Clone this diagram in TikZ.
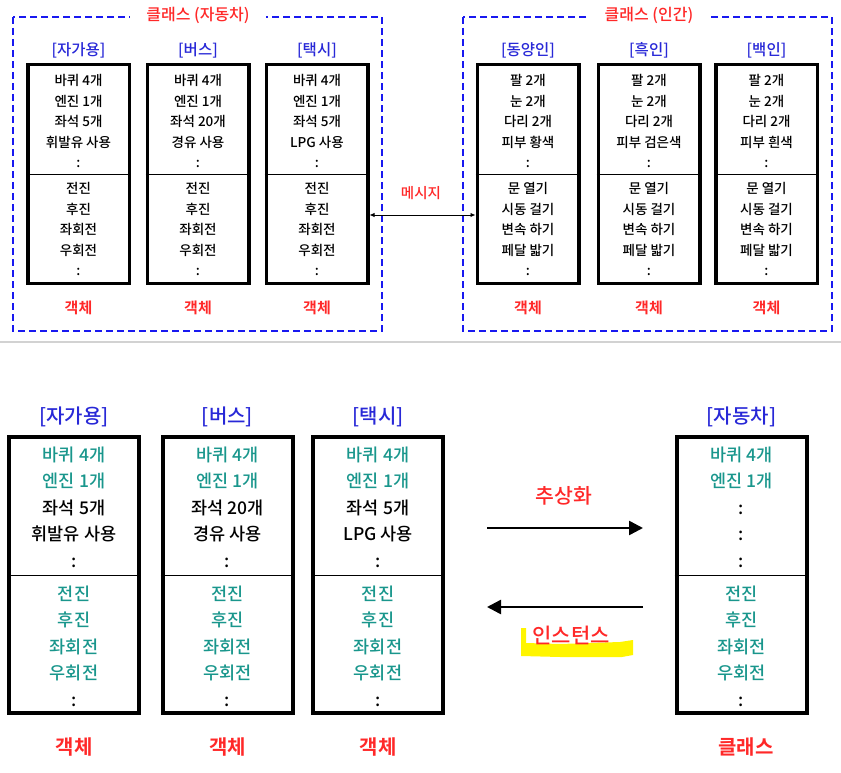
\documentclass[tikz,border=0pt]{standalone}
\usepackage{fontspec}
\setmainfont{Noto Sans CJK KR}[UprightFont=* Medium, BoldFont=* Bold]
\usetikzlibrary{arrows.meta}
\definecolor{namered}{RGB}{255,40,40}
\definecolor{tagblue}{RGB}{40,40,215}
\definecolor{frameblue}{RGB}{25,25,240}
\definecolor{tealtext}{RGB}{25,150,140}
\definecolor{marker}{RGB}{255,245,0}

\begin{document}
\begin{tikzpicture}[x=1pt, y=-1pt,
        objbox/.style={draw, line width=3.5pt, minimum width=101.5pt, minimum height=218.5pt, inner sep=0pt},
        bigbox/.style={draw, line width=4pt, minimum width=130pt, minimum height=276pt, inner sep=0pt},
        attrtext/.style={align=center, inner sep=0pt, font=\fontsize{13.5}{20.5}\selectfont},
        bigtext/.style={align=center, inner sep=0pt, font=\fontsize{17.5}{26.5}\selectfont},
        boxtag/.style={text=tagblue, font=\fontsize{15.5}{18}\selectfont},
        bigtag/.style={text=tagblue, font=\fontsize{20}{24}\selectfont},
        objname/.style={text=namered, font=\bfseries\fontsize{15}{18}\selectfont},
        bigname/.style={text=namered, font=\bfseries\fontsize{20}{24}\selectfont},
        frame/.style={draw=frameblue, line width=1.8pt, dash pattern=on 7pt off 4pt},
        frametitle/.style={fill=white, text=namered, inner xsep=16pt, font=\fontsize{16}{19}\selectfont}]
        \useasboundingbox (0,0) rectangle (841,773);

        % Top diagram: class frames
        \draw[frame] (13,17) rectangle (382,331);
        \draw[frame] (463,17) rectangle (832,331);
        \node[frametitle] (cartitle) at (198,15) {클래스 (자동차)};
        \node[frametitle] (humtitle) at (649,15) {클래스 (인간)};

        % Car objects
        \node[boxtag] (car1t) at (78.5,50) {[자가용]};
        \node[objbox] (car1) at (78.5,174) {};
        \draw (car1.west) -- (car1.east);
        \node[attrtext] (car1a) at (78.5,121) {바퀴 4개\\엔진 1개\\좌석 5개\\휘발유 사용\\:};
        \node[attrtext] (car1m) at (78.5,229) {전진\\후진\\좌회전\\우회전\\:};
        \node[objname] (car1o) at (78.5,308) {객체};

        \node[boxtag] (car2t) at (198,50) {[버스]};
        \node[objbox] (car2) at (198,174) {};
        \draw (car2.west) -- (car2.east);
        \node[attrtext] (car2a) at (198,121) {바퀴 4개\\엔진 1개\\좌석 20개\\경유 사용\\:};
        \node[attrtext] (car2m) at (198,229) {전진\\후진\\좌회전\\우회전\\:};
        \node[objname] (car2o) at (198,308) {객체};

        \node[boxtag] (car3t) at (317,50) {[택시]};
        \node[objbox] (car3) at (317,174) {};
        \draw (car3.west) -- (car3.east);
        \node[attrtext] (car3a) at (317,121) {바퀴 4개\\엔진 1개\\좌석 5개\\LPG 사용\\:};
        \node[attrtext] (car3m) at (317,229) {전진\\후진\\좌회전\\우회전\\:};
        \node[objname] (car3o) at (317,308) {객체};

        % Human objects
        \node[boxtag] (hum1t) at (528,50) {[동양인]};
        \node[objbox] (hum1) at (528,174) {};
        \draw (hum1.west) -- (hum1.east);
        \node[attrtext] (hum1a) at (528,121) {팔 2개\\눈 2개\\다리 2개\\피부 황색\\:};
        \node[attrtext] (hum1m) at (528,229) {문 열기\\시동 걸기\\변속 하기\\페달 밟기\\:};
        \node[objname] (hum1o) at (528,308) {객체};

        \node[boxtag] (hum2t) at (649,50) {[흑인]};
        \node[objbox] (hum2) at (649,174) {};
        \draw (hum2.west) -- (hum2.east);
        \node[attrtext] (hum2a) at (649,121) {팔 2개\\눈 2개\\다리 2개\\피부 검은색\\:};
        \node[attrtext] (hum2m) at (649,229) {문 열기\\시동 걸기\\변속 하기\\페달 밟기\\:};
        \node[objname] (hum2o) at (649,308) {객체};

        \node[boxtag] (hum3t) at (766.5,50) {[백인]};
        \node[objbox] (hum3) at (766.5,174) {};
        \draw (hum3.west) -- (hum3.east);
        \node[attrtext] (hum3a) at (766.5,121) {팔 2개\\눈 2개\\다리 2개\\피부 흰색\\:};
        \node[attrtext] (hum3m) at (766.5,229) {문 열기\\시동 걸기\\변속 하기\\페달 밟기\\:};
        \node[objname] (hum3o) at (766.5,308) {객체};

        % Message between objects
        \draw[{Latex[length=5pt,width=4.5pt]}-{Latex[length=5pt,width=4.5pt]}, line width=0.9pt]
            ([yshift=-41pt]car3.east) -- ([yshift=-41pt]hum1.west);
        \node[text=namered, font=\fontsize{14.5}{17}\selectfont] (msg) at (421,193) {메시지};

        % Separator
        \draw[gray!35, line width=1.2pt] (0,342) -- (841,342);

        % Bottom diagram: instances and class
        \node[bigtag] (ins1t) at (74,417) {[자가용]};
        \node[bigbox] (ins1) at (74,575) {};
        \draw (ins1.west) -- (ins1.east);
        \node[bigtext] (ins1a) at (74,507) {{\color{tealtext}바퀴 4개}\\{\color{tealtext}엔진 1개}\\좌석 5개\\휘발유 사용\\:};
        \node[bigtext, text=tealtext] (ins1m) at (74,646) {전진\\후진\\좌회전\\우회전\\{\color{black}:}};
        \node[bigname] (ins1o) at (74,747) {객체};

        \node[bigtag] (ins2t) at (227.5,417) {[버스]};
        \node[bigbox] (ins2) at (227.5,575) {};
        \draw (ins2.west) -- (ins2.east);
        \node[bigtext] (ins2a) at (227.5,507) {{\color{tealtext}바퀴 4개}\\{\color{tealtext}엔진 1개}\\좌석 20개\\경유 사용\\:};
        \node[bigtext, text=tealtext] (ins2m) at (227.5,646) {전진\\후진\\좌회전\\우회전\\{\color{black}:}};
        \node[bigname] (ins2o) at (227.5,747) {객체};

        \node[bigtag] (ins3t) at (378,417) {[택시]};
        \node[bigbox] (ins3) at (378,575) {};
        \draw (ins3.west) -- (ins3.east);
        \node[bigtext] (ins3a) at (378,507) {{\color{tealtext}바퀴 4개}\\{\color{tealtext}엔진 1개}\\좌석 5개\\LPG 사용\\:};
        \node[bigtext, text=tealtext] (ins3m) at (378,646) {전진\\후진\\좌회전\\우회전\\{\color{black}:}};
        \node[bigname] (ins3o) at (378,747) {객체};

        \node[bigtag] (clst) at (741.5,417) {[자동차]};
        \node[bigbox] (cls) at (741.5,575) {};
        \draw (cls.west) -- (cls.east);
        \node[bigtext] (clsa) at (741.5,507) {{\color{tealtext}바퀴 4개}\\{\color{tealtext}엔진 1개}\\:\\:\\:};
        \node[bigtext, text=tealtext] (clsm) at (741.5,646) {전진\\후진\\좌회전\\우회전\\{\color{black}:}};
        \node[bigname] (clso) at (746,747) {클래스};

        % Abstraction and instantiation
        \coordinate (absL) at (487,528);
        \coordinate (absR) at (643,528);
        \coordinate (insR) at (643,607);
        \coordinate (insL) at (487,607);
        \draw[-{Triangle[length=14pt,width=14pt]}, line width=2.5pt] (absL) -- (absR);
        \draw[-{Triangle[length=14pt,width=14pt]}, line width=2.5pt] (insR) -- (insL);
        \node[text=namered, font=\fontsize{20.5}{24}\selectfont] (abstr) at (564,496) {추상화};
        \fill[marker] (521,628) -- (526,628) -- (526,643) -- (560,644) -- (620,642) -- (633,640)
            -- (633,655) -- (622,657) -- (560,657) -- (521,656) -- cycle;
        \node[text=namered, font=\fontsize{21}{24}\selectfont] (inst) at (571,635) {인스턴스};
\end{tikzpicture}
\end{document}
